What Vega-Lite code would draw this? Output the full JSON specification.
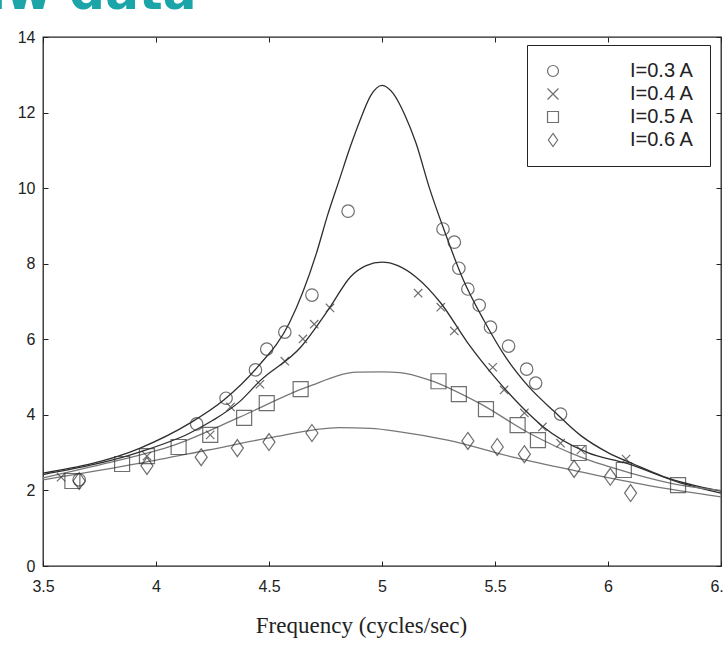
{
  "$schema": "https://vega.github.io/schema/vega-lite/v6.json",
  "width": 678,
  "height": 529,
  "autosize": "none",
  "padding": {"left": 43, "top": 37, "right": 3, "bottom": 98},
  "background": "white",
  "config": {
    "view": {"stroke": "#222", "strokeWidth": 1.3},
    "font": "Liberation Sans"
  },
  "datasets": {
    "curves": [
      {"series": "I=0.3 A", "f": 3.5, "v": 2.46},
      {"series": "I=0.3 A", "f": 3.93, "v": 3.12},
      {"series": "I=0.3 A", "f": 4.15, "v": 3.78},
      {"series": "I=0.3 A", "f": 4.3, "v": 4.39},
      {"series": "I=0.3 A", "f": 4.45, "v": 5.27},
      {"series": "I=0.3 A", "f": 4.59, "v": 6.43},
      {"series": "I=0.3 A", "f": 4.71, "v": 8.28},
      {"series": "I=0.3 A", "f": 4.76, "v": 9.3},
      {"series": "I=0.3 A", "f": 4.81, "v": 10.2},
      {"series": "I=0.3 A", "f": 4.86, "v": 11.1},
      {"series": "I=0.3 A", "f": 4.9, "v": 11.75},
      {"series": "I=0.3 A", "f": 4.95, "v": 12.45},
      {"series": "I=0.3 A", "f": 5.0, "v": 12.72},
      {"series": "I=0.3 A", "f": 5.05, "v": 12.5},
      {"series": "I=0.3 A", "f": 5.1, "v": 11.95},
      {"series": "I=0.3 A", "f": 5.15, "v": 11.2},
      {"series": "I=0.3 A", "f": 5.21, "v": 10.0},
      {"series": "I=0.3 A", "f": 5.27, "v": 8.97},
      {"series": "I=0.3 A", "f": 5.36, "v": 7.57},
      {"series": "I=0.3 A", "f": 5.45, "v": 6.51},
      {"series": "I=0.3 A", "f": 5.55, "v": 5.5},
      {"series": "I=0.3 A", "f": 5.65, "v": 4.74},
      {"series": "I=0.3 A", "f": 5.76, "v": 4.1},
      {"series": "I=0.3 A", "f": 5.88, "v": 3.45},
      {"series": "I=0.3 A", "f": 6.0, "v": 3.0},
      {"series": "I=0.3 A", "f": 6.12, "v": 2.68},
      {"series": "I=0.3 A", "f": 6.24, "v": 2.38},
      {"series": "I=0.3 A", "f": 6.5, "v": 1.98},
      {"series": "I=0.4 A", "f": 3.5, "v": 2.42},
      {"series": "I=0.4 A", "f": 3.93, "v": 3.02},
      {"series": "I=0.4 A", "f": 4.15, "v": 3.52},
      {"series": "I=0.4 A", "f": 4.25, "v": 3.85},
      {"series": "I=0.4 A", "f": 4.37, "v": 4.35},
      {"series": "I=0.4 A", "f": 4.46, "v": 4.9},
      {"series": "I=0.4 A", "f": 4.64, "v": 5.79},
      {"series": "I=0.4 A", "f": 4.77, "v": 6.85},
      {"series": "I=0.4 A", "f": 4.86, "v": 7.65},
      {"series": "I=0.4 A", "f": 4.93, "v": 7.95},
      {"series": "I=0.4 A", "f": 5.0, "v": 8.04},
      {"series": "I=0.4 A", "f": 5.07, "v": 7.95},
      {"series": "I=0.4 A", "f": 5.15, "v": 7.65},
      {"series": "I=0.4 A", "f": 5.26, "v": 6.96},
      {"series": "I=0.4 A", "f": 5.38, "v": 5.9},
      {"series": "I=0.4 A", "f": 5.51, "v": 4.92},
      {"series": "I=0.4 A", "f": 5.62, "v": 4.2},
      {"series": "I=0.4 A", "f": 5.71, "v": 3.7},
      {"series": "I=0.4 A", "f": 5.91, "v": 3.0},
      {"series": "I=0.4 A", "f": 6.08, "v": 2.72},
      {"series": "I=0.4 A", "f": 6.32, "v": 2.2},
      {"series": "I=0.4 A", "f": 6.5, "v": 1.93},
      {"series": "I=0.5 A", "f": 3.5, "v": 2.33},
      {"series": "I=0.5 A", "f": 3.78, "v": 2.72},
      {"series": "I=0.5 A", "f": 4.08, "v": 3.2},
      {"series": "I=0.5 A", "f": 4.37, "v": 3.94},
      {"series": "I=0.5 A", "f": 4.67, "v": 4.74},
      {"series": "I=0.5 A", "f": 4.89, "v": 5.13},
      {"series": "I=0.5 A", "f": 5.0, "v": 5.14},
      {"series": "I=0.5 A", "f": 5.08, "v": 5.12},
      {"series": "I=0.5 A", "f": 5.21, "v": 4.92},
      {"series": "I=0.5 A", "f": 5.43, "v": 4.31},
      {"series": "I=0.5 A", "f": 5.65, "v": 3.52},
      {"series": "I=0.5 A", "f": 5.88, "v": 2.88},
      {"series": "I=0.5 A", "f": 6.1, "v": 2.46},
      {"series": "I=0.5 A", "f": 6.32, "v": 2.14},
      {"series": "I=0.5 A", "f": 6.5, "v": 2.0},
      {"series": "I=0.6 A", "f": 3.5, "v": 2.28},
      {"series": "I=0.6 A", "f": 3.93, "v": 2.72},
      {"series": "I=0.6 A", "f": 4.23, "v": 3.07},
      {"series": "I=0.6 A", "f": 4.52, "v": 3.41},
      {"series": "I=0.6 A", "f": 4.81, "v": 3.66},
      {"series": "I=0.6 A", "f": 4.95, "v": 3.64},
      {"series": "I=0.6 A", "f": 5.08, "v": 3.55},
      {"series": "I=0.6 A", "f": 5.29, "v": 3.33},
      {"series": "I=0.6 A", "f": 5.58, "v": 2.88},
      {"series": "I=0.6 A", "f": 5.88, "v": 2.49},
      {"series": "I=0.6 A", "f": 6.17, "v": 2.14},
      {"series": "I=0.6 A", "f": 6.5, "v": 1.83}
    ],
    "points": [
      {"series": "I=0.3 A", "f": 3.66, "v": 2.28},
      {"series": "I=0.3 A", "f": 4.18, "v": 3.76},
      {"series": "I=0.3 A", "f": 4.31, "v": 4.44},
      {"series": "I=0.3 A", "f": 4.44, "v": 5.19},
      {"series": "I=0.3 A", "f": 4.49, "v": 5.74},
      {"series": "I=0.3 A", "f": 4.57, "v": 6.19},
      {"series": "I=0.3 A", "f": 4.69, "v": 7.17},
      {"series": "I=0.3 A", "f": 4.85, "v": 9.39},
      {"series": "I=0.3 A", "f": 5.27, "v": 8.92},
      {"series": "I=0.3 A", "f": 5.32, "v": 8.57},
      {"series": "I=0.3 A", "f": 5.34, "v": 7.88},
      {"series": "I=0.3 A", "f": 5.38, "v": 7.33},
      {"series": "I=0.3 A", "f": 5.43, "v": 6.9},
      {"series": "I=0.3 A", "f": 5.48, "v": 6.32},
      {"series": "I=0.3 A", "f": 5.56, "v": 5.82},
      {"series": "I=0.3 A", "f": 5.64, "v": 5.21},
      {"series": "I=0.3 A", "f": 5.68, "v": 4.84},
      {"series": "I=0.3 A", "f": 5.79, "v": 4.02},
      {"series": "I=0.4 A", "f": 3.58, "v": 2.35},
      {"series": "I=0.4 A", "f": 3.96, "v": 2.91},
      {"series": "I=0.4 A", "f": 4.24, "v": 3.47},
      {"series": "I=0.4 A", "f": 4.33, "v": 4.21},
      {"series": "I=0.4 A", "f": 4.46, "v": 4.81},
      {"series": "I=0.4 A", "f": 4.57, "v": 5.42},
      {"series": "I=0.4 A", "f": 4.65, "v": 6.01},
      {"series": "I=0.4 A", "f": 4.7, "v": 6.4},
      {"series": "I=0.4 A", "f": 4.77, "v": 6.83},
      {"series": "I=0.4 A", "f": 5.16, "v": 7.22},
      {"series": "I=0.4 A", "f": 5.26, "v": 6.85},
      {"series": "I=0.4 A", "f": 5.32, "v": 6.22},
      {"series": "I=0.4 A", "f": 5.49, "v": 5.26},
      {"series": "I=0.4 A", "f": 5.54, "v": 4.66},
      {"series": "I=0.4 A", "f": 5.63, "v": 4.05},
      {"series": "I=0.4 A", "f": 5.71, "v": 3.68},
      {"series": "I=0.4 A", "f": 5.79, "v": 3.25},
      {"series": "I=0.4 A", "f": 5.88, "v": 3.07},
      {"series": "I=0.4 A", "f": 6.08, "v": 2.83},
      {"series": "I=0.5 A", "f": 3.63, "v": 2.25},
      {"series": "I=0.5 A", "f": 3.85, "v": 2.7},
      {"series": "I=0.5 A", "f": 3.96, "v": 2.91},
      {"series": "I=0.5 A", "f": 4.1, "v": 3.15},
      {"series": "I=0.5 A", "f": 4.24, "v": 3.47},
      {"series": "I=0.5 A", "f": 4.39, "v": 3.92},
      {"series": "I=0.5 A", "f": 4.49, "v": 4.31},
      {"series": "I=0.5 A", "f": 4.64, "v": 4.68},
      {"series": "I=0.5 A", "f": 5.25, "v": 4.89},
      {"series": "I=0.5 A", "f": 5.34, "v": 4.55},
      {"series": "I=0.5 A", "f": 5.46, "v": 4.15},
      {"series": "I=0.5 A", "f": 5.6, "v": 3.73},
      {"series": "I=0.5 A", "f": 5.69, "v": 3.33},
      {"series": "I=0.5 A", "f": 5.87, "v": 2.99},
      {"series": "I=0.5 A", "f": 6.07, "v": 2.54},
      {"series": "I=0.5 A", "f": 6.31, "v": 2.14},
      {"series": "I=0.6 A", "f": 3.66, "v": 2.25},
      {"series": "I=0.6 A", "f": 3.96, "v": 2.65},
      {"series": "I=0.6 A", "f": 4.2, "v": 2.88},
      {"series": "I=0.6 A", "f": 4.36, "v": 3.12},
      {"series": "I=0.6 A", "f": 4.5, "v": 3.28},
      {"series": "I=0.6 A", "f": 4.69, "v": 3.52},
      {"series": "I=0.6 A", "f": 5.38, "v": 3.31},
      {"series": "I=0.6 A", "f": 5.51, "v": 3.15},
      {"series": "I=0.6 A", "f": 5.63, "v": 2.96},
      {"series": "I=0.6 A", "f": 5.85, "v": 2.57},
      {"series": "I=0.6 A", "f": 6.01, "v": 2.36},
      {"series": "I=0.6 A", "f": 6.1, "v": 1.93}
    ]
  },
  "layer": [
    {
      "data": {"name": "curves"},
      "transform": [{"filter": "datum.series === 'I=0.3 A' || datum.series === 'I=0.4 A'"}],
      "mark": {"type": "line", "strokeWidth": 1.3, "interpolate": "monotone", "clip": true, "color": "#2e2e2e"},
      "encoding": {
        "x": {
          "field": "f", "type": "quantitative",
          "scale": {"domain": [3.5, 6.5], "nice": false, "zero": false},
          "axis": {
            "orient": "bottom", "values": [3.5, 4, 4.5, 5, 5.5, 6, 6.5], "format": ".1~f",
            "domain": false, "grid": false, "tickSize": -5, "tickColor": "#222",
            "labelFontSize": 16, "labelColor": "#222", "labelPadding": 17, "labelFlush": false,
            "title": "Frequency (cycles/sec)", "titleFont": "Liberation Serif", "titleFontSize": 23,
            "titleFontWeight": "normal", "titleColor": "#222", "titlePadding": 20,
            "titleX": 318, "titleAlign": "center"
          }
        },
        "y": {
          "field": "v", "type": "quantitative",
          "scale": {"domain": [0, 14], "nice": false},
          "axis": {
            "orient": "left", "values": [0, 2, 4, 6, 8, 10, 12, 14], "format": "d",
            "domain": false, "grid": false, "tickSize": -5, "tickColor": "#222",
            "labelFontSize": 16, "labelColor": "#222", "labelPadding": 13, "labelFlush": false,
            "title": null
          }
        },
        "detail": {"field": "series"}
      }
    },
    {
      "data": {"name": "curves"},
      "transform": [{"filter": "datum.series === 'I=0.5 A' || datum.series === 'I=0.6 A'"}],
      "mark": {"type": "line", "strokeWidth": 1.3, "interpolate": "monotone", "clip": true, "color": "#777777"},
      "encoding": {
        "x": {"field": "f", "type": "quantitative", "axis": null},
        "y": {"field": "v", "type": "quantitative", "axis": null},
        "detail": {"field": "series"}
      }
    },
    {
      "data": {"name": "points"},
      "transform": [{"filter": "datum.series === 'I=0.3 A'"}],
      "mark": {"type": "point", "filled": false, "strokeWidth": 1.2, "color": "#333333", "size": 155},
      "encoding": {
        "x": {
          "field": "f", "type": "quantitative",
          "axis": {
            "orient": "top", "values": [3.5, 4, 4.5, 5, 5.5, 6, 6.5],
            "domain": false, "grid": false, "tickSize": -5, "tickColor": "#222",
            "labels": false,
            "title": "Raw data", "titleX": -110, "titleY": -29, "titleAlign": "left",
            "titleAnchor": "start", "titleBaseline": "alphabetic", "titleAngle": 0,
            "titleFont": "DejaVu Sans", "titleFontSize": 50, "titleFontWeight": "bold",
            "titleColor": "#1ba5a9"
          }
        },
        "y": {
          "field": "v", "type": "quantitative",
          "axis": {
            "orient": "right", "values": [0, 2, 4, 6, 8, 10, 12, 14],
            "domain": false, "grid": false, "tickSize": -5, "tickColor": "#222",
            "labels": false, "title": null
          }
        },
        "shape": {
          "field": "series", "type": "nominal",
          "scale": {"domain": ["I=0.3 A", "I=0.4 A", "I=0.5 A", "I=0.6 A"], "range": ["circle", "M-1,-1L1,1M-1,1L1,-1", "square", "M0,-1.2L0.85,0L0,1.2L-0.85,0Z"]},
          "legend": {
            "orient": "none", "legendX": 484, "legendY": 8, "title": null,
            "strokeColor": "#222", "fillColor": "white", "padding": 16,
            "labelOffset": 67, "symbolSize": 120, "symbolStrokeWidth": 1.2,
            "symbolStrokeColor": "#333", "symbolFillColor": "transparent",
            "labelFont": "Liberation Sans", "labelFontSize": 20, "labelColor": "#222",
            "rowPadding": 3
          }
        }
      }
    },
    {
      "data": {"name": "points"},
      "transform": [{"filter": "datum.series === 'I=0.4 A'"}],
      "mark": {"type": "point", "filled": false, "strokeWidth": 1.2, "color": "#333333", "size": 70},
      "encoding": {
        "x": {"field": "f", "type": "quantitative", "axis": null},
        "y": {"field": "v", "type": "quantitative", "axis": null},
        "shape": {"field": "series", "type": "nominal"}
      }
    },
    {
      "data": {"name": "points"},
      "transform": [{"filter": "datum.series === 'I=0.5 A'"}],
      "mark": {"type": "point", "filled": false, "strokeWidth": 1.2, "color": "#333333", "size": 225},
      "encoding": {
        "x": {"field": "f", "type": "quantitative", "axis": null},
        "y": {"field": "v", "type": "quantitative", "axis": null},
        "shape": {"field": "series", "type": "nominal"}
      }
    },
    {
      "data": {"name": "points"},
      "transform": [{"filter": "datum.series === 'I=0.6 A'"}],
      "mark": {"type": "point", "filled": false, "strokeWidth": 1.2, "color": "#333333", "size": 200},
      "encoding": {
        "x": {"field": "f", "type": "quantitative", "axis": null},
        "y": {"field": "v", "type": "quantitative", "axis": null},
        "shape": {"field": "series", "type": "nominal"}
      }
    }
  ],
  "resolve": {"axis": {"x": "independent", "y": "independent"}}
}
